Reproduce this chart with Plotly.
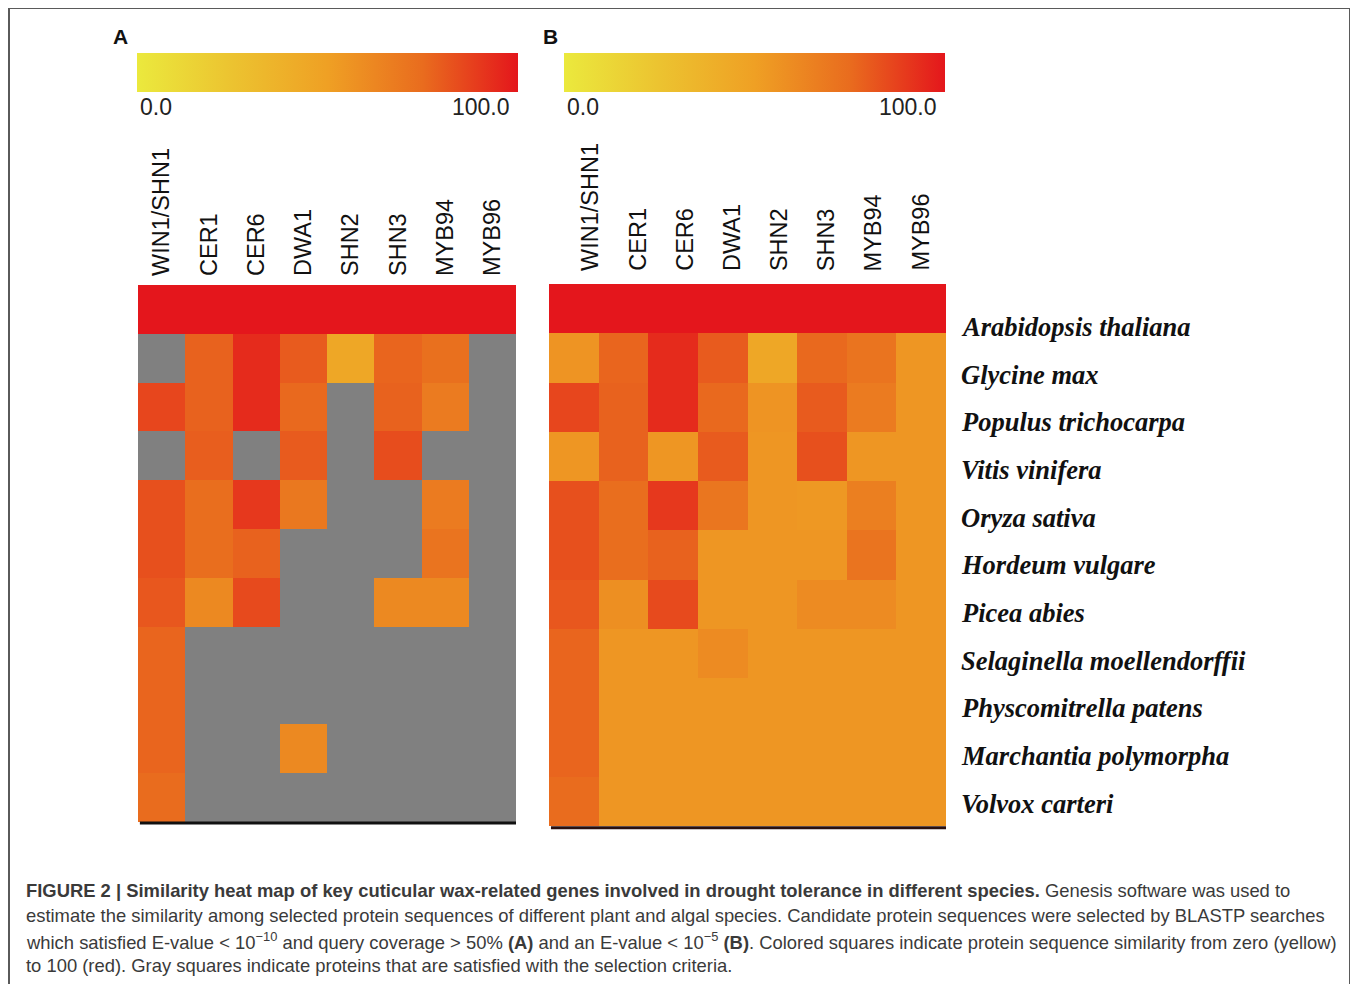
import plotly.graph_objects as go

# page offset (browser body margin) compensation
OFF = 8
W, H = 1358 - OFF, 984 - OFF

genes = ["WIN1/SHN1", "CER1", "CER6", "DWA1", "SHN2", "SHN3", "MYB94", "MYB96"]
species = ["Arabidopsis thaliana", "Glycine max", "Populus trichocarpa", "Vitis vinifera",
           "Oryza sativa", "Hordeum vulgare", "Picea abies", "Selaginella moellendorffii",
           "Physcomitrella patens", "Marchantia polymorpha", "Volvox carteri"]

# Panel A (None = gray square)
sim_A = [
    [100, 100, 100, 100, 100, 100, 100, 100],
    [None, 78, 94, 80, 45, 77, 73, None],
    [86, 78, 94, 76, None, 78, 68, None],
    [None, 79, None, 80, None, 84, None, None],
    [83, 74, 90, 69, None, None, 68, None],
    [83, 74, 78, None, None, None, 71, None],
    [81, 61, 85, None, None, 61, 61, None],
    [77, None, None, None, None, None, None, None],
    [77, None, None, None, None, None, None, None],
    [77, None, None, 61, None, None, None, None],
    [75, None, None, None, None, None, None, None],
]

# Panel B
sim_B = [
    [100, 100, 100, 100, 100, 100, 100, 100],
    [56, 77, 94, 80, 45, 76, 71, 55],
    [86, 78, 94, 76, 56, 80, 68, 55],
    [55, 78, 55, 80, 55, 83, 55, 55],
    [83, 74, 90, 70, 55, 54, 66, 55],
    [83, 74, 78, 55, 55, 55, 71, 55],
    [81, 58, 85, 55, 55, 60, 60, 55],
    [77, 55, 55, 60, 55, 55, 55, 55],
    [77, 55, 55, 55, 55, 55, 55, 55],
    [77, 55, 55, 55, 55, 55, 55, 55],
    [75, 55, 55, 55, 55, 55, 55, 55],
]

cbar_ticktext = ["0.0", "100.0"]

colorscale = [
    [0.0, "#ebe93d"],
    [0.25, "#ecc330"],
    [0.5, "#efa024"],
    [0.75, "#e96c1e"],
    [1.0, "#e4161c"],
]


def px(x):
    return (x - OFF) / W


def py(y):
    return 1 - (y - OFF) / H


fig = go.Figure()

fig.add_trace(go.Heatmap(
    z=sim_A, x=genes, y=species, xaxis="x", yaxis="y",
    colorscale=colorscale, zmin=0, zmax=100, hoverongaps=False,
    colorbar=dict(orientation="h", x=px(137), xanchor="left", y=py(53), yanchor="top",
                  len=381, lenmode="pixels", thickness=39, thicknessmode="pixels",
                  xpad=0, ypad=0, outlinewidth=0, showticklabels=False, ticks=""),
))
fig.add_trace(go.Heatmap(
    z=sim_B, x=genes, y=species, xaxis="x2", yaxis="y2",
    colorscale=colorscale, zmin=0, zmax=100,
    colorbar=dict(orientation="h", x=px(564), xanchor="left", y=py(53), yanchor="top",
                  len=381, lenmode="pixels", thickness=39, thicknessmode="pixels",
                  xpad=0, ypad=0, outlinewidth=0, showticklabels=False, ticks=""),
))

label_font = dict(family="Liberation Sans, Arial, sans-serif", size=23.5, color="#111")

fig.update_layout(
    width=W, height=H,
    margin=dict(l=0, r=0, t=0, b=0),
    paper_bgcolor="white",
    plot_bgcolor="#808080",
    showlegend=False,
    xaxis=dict(domain=[px(138), px(516)], anchor="y", side="top", tickangle=-90,
               tickfont=label_font, ticks="", ticklabelstandoff=8, showgrid=False,
               zeroline=False, showline=False, fixedrange=True),
    yaxis=dict(domain=[py(822), py(285)], anchor="x", autorange="reversed",
               showticklabels=False, ticks="", showgrid=False, zeroline=False),
    xaxis2=dict(domain=[px(549), px(946)], anchor="y2", showticklabels=False, ticks="",
                showgrid=False, zeroline=False),
    yaxis2=dict(domain=[py(826), py(284)], anchor="x2", autorange="reversed",
                showticklabels=False, ticks="", showgrid=False, zeroline=False),
)

shapes = [
    # outer frame
    dict(type="rect", xref="paper", yref="paper", x0=px(9), x1=px(1350), y0=py(1010), y1=py(8),
         line=dict(color="#5a5a5a", width=2), fillcolor="rgba(0,0,0,0)"),
    # bottom rules under heatmaps
    dict(type="line", xref="x domain", yref="y domain", x0=0.005, x1=1, y0=-0.002, y1=-0.002,
         line=dict(color="#111", width=3)),
    dict(type="line", xref="x2 domain", yref="y2 domain", x0=0.005, x1=1, y0=-0.003, y1=-0.003,
         line=dict(color="#2a1010", width=3)),
]

annotations = []
# Panel letters
for letter, xx in [("A", 120), ("B", 550)]:
    annotations.append(dict(text=f"<b>{letter}</b>", x=px(xx), y=py(37), xref="paper", yref="paper",
                            showarrow=False, xanchor="center", yanchor="middle",
                            font=dict(family="Liberation Sans, Arial", size=21, color="#111")))
# Colorbar tick labels
for (left, right) in [(138, 512), (565, 939)]:
    annotations.append(dict(text=cbar_ticktext[0], x=px(left), y=py(107), xref="paper", yref="paper",
                            showarrow=False, xanchor="left", yanchor="middle",
                            font=dict(family="Liberation Sans, Arial", size=23, color="#222")))
    annotations.append(dict(text=cbar_ticktext[1], x=px(right), y=py(107), xref="paper", yref="paper",
                            showarrow=False, xanchor="right", yanchor="middle",
                            font=dict(family="Liberation Sans, Arial", size=23, color="#222")))
# Panel B column labels
for i, g in enumerate(genes):
    annotations.append(dict(text=g, x=px(590 + 47.15 * i), y=py(273), xref="paper", yref="paper",
                            showarrow=False, textangle=-90, xanchor="center", yanchor="bottom",
                            font=label_font))
# Species labels
for i, s in enumerate(species):
    annotations.append(dict(text=s, x=px(959), y=py(327 + 47.65 * i), xref="paper", yref="paper",
                            showarrow=False, xanchor="left", yanchor="middle",
                            font=dict(family="Liberation Serif, Times New Roman, serif", size=26.5,
                                      color="#111", style="italic", weight="bold")))

# Caption
cap_font = dict(family="Liberation Sans, Arial, sans-serif", size=18.4, color="#3a3a3a")
caption_lines = [
    "<b>FIGURE 2 | Similarity heat map of key cuticular wax-related genes involved in drought tolerance in different species.</b> Genesis software was used to",
    "estimate the similarity among selected protein sequences of different plant and algal species. Candidate protein sequences were selected by BLASTP searches",
    "which satisfied E-value &lt; 10<sup>\u221210</sup> and query coverage &gt; 50% <b>(A)</b> and an E-value &lt; 10<sup>\u22125</sup> <b>(B)</b>. Colored squares indicate protein sequence similarity from zero (yellow)",
    "to 100 (red). Gray squares indicate proteins that are satisfied with the selection criteria.",
]
for i, line in enumerate(caption_lines):
    annotations.append(dict(text=line, x=px(24), y=py(890 + 25.3 * i), xref="paper", yref="paper",
                            showarrow=False, xanchor="left", yanchor="middle", align="left",
                            font=cap_font))

fig.update_layout(shapes=shapes, annotations=annotations)

fig.write_html("out.html")
